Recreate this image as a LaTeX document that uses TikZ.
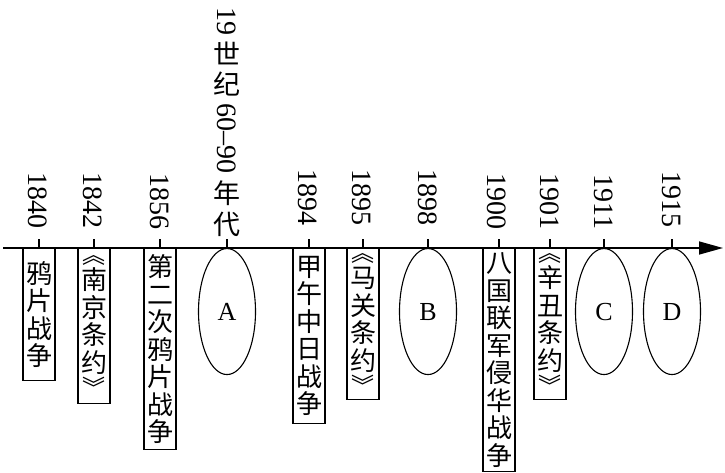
\documentclass[tikz,border=0pt]{standalone}
\usepackage{fontspec}
\setmainfont{Liberation Serif}
\newfontfamily\cjk{Noto Sans CJK SC}
\usetikzlibrary{shapes.geometric,arrows.meta}
\newcommand\lbk{{\fontsize{23}{23}\selectfont ︽}}
\newcommand\rbk{{\fontsize{23}{23}\selectfont ︾}}
\begin{document}
\begin{tikzpicture}[x=1pt,y=-1pt,
  yr/.style={rotate=-90,anchor=east,inner sep=0pt,font=\fontsize{28}{28}\selectfont},
  vbox/.style={draw,line width=1.1pt,anchor=north,minimum width=32pt,inner sep=0pt,align=center,font=\cjk\fontsize{26}{27.5}\selectfont},
  oval/.style={draw,ellipse,line width=1.1pt,anchor=north,minimum width=57pt,minimum height=126pt,inner sep=0pt,font=\fontsize{26}{26}\selectfont},
  tickline/.style={line width=1.2pt},
  axisline/.style={line width=1.5pt,-{Triangle[length=24pt,width=13pt]}}]
\useasboundingbox (0,0) rectangle (725,473);
% axis
\coordinate (axs) at (3,248);
\coordinate (axe) at (723,248);
\draw[axisline] (axs) -- (axe);
% boxes and ovals
\node[vbox,minimum height=132pt] (b1) at (39,248) {鸦\\片\\战\\争};
\node[vbox,minimum height=155pt] (b2) at (94,248) {\lbk\\[-1pt]南\\京\\条\\约\\[-3pt]\rbk};
\node[vbox,minimum height=201pt] (b3) at (160,248) {第\\二\\次\\鸦\\片\\战\\争};
\node[oval] (A) at (227,248) {A};
\node[vbox,minimum height=175pt] (b4) at (309,248) {甲\\午\\中\\日\\战\\争};
\node[vbox,minimum height=151pt] (b5) at (363,248) {\lbk\\[-1pt]马\\关\\条\\约\\[-3pt]\rbk};
\node[oval] (B) at (428,248) {B};
\node[vbox,minimum height=223pt] (b6) at (499,248) {八\\国\\联\\军\\侵\\华\\战\\争};
\node[vbox,minimum height=151pt] (b7) at (550,248) {\lbk\\[-1pt]辛\\丑\\条\\约\\[-3pt]\rbk};
\node[oval] (C) at (604,248) {C};
\node[oval] (D) at (672,248) {D};
% ticks
\foreach \n in {b1,b2,b3,A,b4,b5,B,b6,b7,C,D}{
  \draw[tickline] (\n.north) -- ++(0,-9);
}
% year labels
\node[yr] (y1) at (38,229) {1840};
\node[yr] (y2) at (93,229) {1842};
\node[yr] (y3) at (160,230) {1856};
\node[yr] (y4) at (308,226) {1894};
\node[yr] (y5) at (362,226) {1895};
\node[yr] (y6) at (428,226) {1898};
\node[yr] (y7) at (497,230) {1900};
\node[yr] (y8) at (550,230) {1901};
\node[yr] (y9) at (604,230) {1911};
\node[yr] (y10) at (672,228) {1915};
\node[anchor=south,align=center,inner sep=0pt,font=\fontsize{28}{0}\selectfont,
  execute at begin node={\setlength{\lineskip}{7pt}}] (ya) at (227,237)
  {\rotatebox{-90}{19}\\{\cjk\fontsize{27}{0}\selectfont 世}\\{\cjk\fontsize{27}{0}\selectfont 纪}\\\rotatebox{-90}{60–90}\\{\cjk\fontsize{27}{0}\selectfont 年}\\{\cjk\fontsize{27}{0}\selectfont 代}};
\end{tikzpicture}
\end{document}
